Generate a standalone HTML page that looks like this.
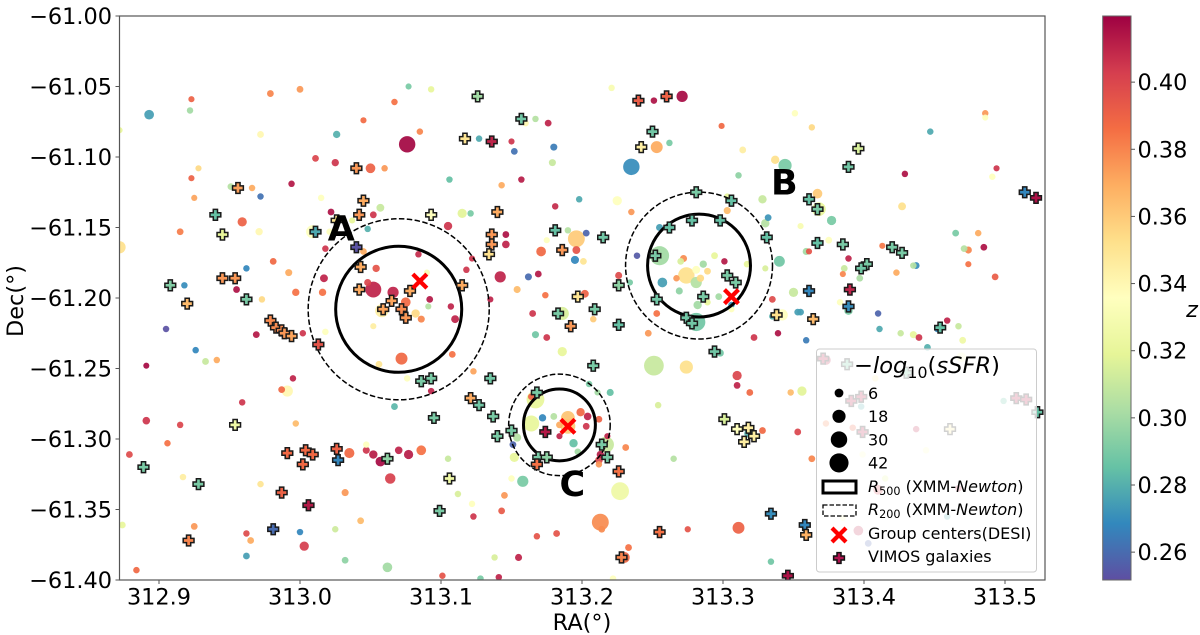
<!DOCTYPE html>
<html lang="en">
<head>
<meta charset="utf-8">
<title>Galaxy group field: RA vs Dec coloured by redshift</title>
<style>
html,body{margin:0;padding:0;background:#fff;}
svg{display:block;}
text{font-family:"DejaVu Sans","Liberation Sans",sans-serif;fill:#000;}
</style>
</head>
<body>
<svg id="chart" xmlns="http://www.w3.org/2000/svg" width="1200" height="635" viewBox="0 0 1200 635">
  <defs>
    <clipPath id="plot-clip"><rect x="119.5" y="16" width="925.5" height="564"/></clipPath>
    <linearGradient id="cbar-grad" x1="0" y1="0" x2="0" y2="1"></linearGradient>
  </defs>
  <g id="marks" clip-path="url(#plot-clip)"></g>
  <rect x="119.5" y="16" width="925.5" height="564" fill="none" stroke="#555" stroke-width="1.2"/>
  <g id="axes"></g>
  <text x="582" y="630" font-size="22.4" text-anchor="middle">RA(°)</text>
  <text transform="translate(23,301) rotate(-90)" font-size="22.4" text-anchor="middle">Dec(°)</text>
  <g id="cbar"></g>
  <text x="1192" y="317" font-size="22.4" font-style="italic" text-anchor="middle">z</text>

  <g id="legend">
    <rect x="816.5" y="349" width="220" height="223" rx="3" ry="3" fill="#fff" fill-opacity="0.8" stroke="#ccc" stroke-width="1"/>
    <text x="854" y="373" font-size="22.6">−<tspan font-style="italic">log</tspan><tspan font-size="15.8" dy="5">10</tspan><tspan dy="-5">(</tspan><tspan font-style="italic">sSFR</tspan>)</text>
    <g id="legend-sizes"></g>
    <rect x="823" y="481" width="33" height="12" fill="none" stroke="#000" stroke-width="3"/>
    <text x="868" y="492" font-size="16"><tspan font-style="italic">R</tspan><tspan font-size="11.2" dy="3">500</tspan><tspan dy="-3"> (XMM-</tspan><tspan font-style="italic">Newton</tspan>)</text>
    <rect x="823" y="505" width="33" height="11" fill="none" stroke="#000" stroke-width="1.3" stroke-dasharray="4.5 2"/>
    <text x="868" y="515" font-size="16"><tspan font-style="italic">R</tspan><tspan font-size="11.2" dy="3">200</tspan><tspan dy="-3"> (XMM-</tspan><tspan font-style="italic">Newton</tspan>)</text>
    <path d="M832 528L846 542M846 528L832 542" stroke="#f00" stroke-width="4.2" fill="none"/>
    <text x="868" y="539" font-size="16">Group centers(DESI)</text>
    <path d="M837 552.6h4v3.4h3.4v4h-3.4v3.4h-4v-3.4h-3.4v-4h3.4z" fill="#b0124f" stroke="#111" stroke-width="1.5"/>
    <text x="868" y="562" font-size="16">VIMOS galaxies</text>
  </g>
</svg>
<script>
// ---- Data: photometric / spectroscopic galaxies (RA, Dec, redshift, size value) ----
const dotRa = [
312.893,312.923,312.922,312.979,313.000,313.077,313.093,313.067,313.045,312.972,
313.026,313.076,313.085,312.928,312.923,313.011,313.025,313.050,313.060,312.951,
312.966,312.994,312.972,312.925,313.015,313.057,313.022,313.052,312.959,312.915,
312.971,313.037,313.048,313.009,313.021,313.018,313.045,312.981,312.962,312.992,
313.017,313.054,313.084,313.090,312.918,312.955,312.997,313.016,313.048,313.052,
313.066,313.075,313.092,313.091,312.973,313.058,313.082,313.086,313.052,312.905,
312.872,312.872,313.221,313.271,313.251,313.299,313.167,313.176,313.160,313.127,
313.150,313.152,313.180,313.262,313.253,313.314,313.179,313.235,313.311,313.106,
313.157,313.143,313.181,313.198,313.225,313.235,313.303,313.303,313.115,313.121,
313.105,313.146,313.146,313.255,313.190,313.203,313.196,313.175,313.171,313.196,
313.195,313.201,313.255,313.239,313.294,313.301,313.317,313.272,313.270,313.286,
313.289,313.281,313.122,313.118,313.142,313.162,313.169,313.226,313.234,313.257,
313.267,313.274,313.284,313.281,313.269,313.297,313.289,313.282,313.154,313.174,
313.202,313.135,313.107,313.110,313.165,313.186,313.208,313.253,313.281,313.306,
313.306,313.351,313.363,313.486,313.486,313.447,313.337,313.344,313.429,313.494,
313.491,313.367,313.328,313.368,313.427,313.377,313.332,313.330,313.355,313.375,
313.465,313.481,313.413,313.359,313.361,313.471,313.474,313.485,313.389,313.340,
313.330,313.386,313.474,313.385,313.423,313.435,313.437,313.493,313.397,313.350,
313.335,313.383,313.389,313.353,313.355,313.342,313.410,313.335,313.339,313.359,
313.411,313.459,313.467,313.426,313.435,313.439,313.470,313.445,313.452,312.926,
312.933,312.941,312.969,313.002,313.018,312.891,312.995,312.987,312.991,313.072,
313.108,313.056,313.076,313.093,313.067,312.959,312.891,312.915,312.997,312.906,
312.879,313.047,313.047,313.035,313.052,313.057,313.070,313.077,313.086,313.064,
313.105,313.032,312.972,312.917,313.112,313.043,313.025,313.000,312.925,312.962,
312.965,313.003,312.962,313.032,313.062,313.101,312.884,312.874,313.167,313.175,
313.247,313.322,313.186,313.251,313.274,313.298,313.310,313.310,313.319,313.348,
313.356,313.123,313.205,313.220,313.211,313.167,313.164,313.164,313.172,313.180,
313.190,313.190,313.184,313.199,313.204,313.212,313.203,313.184,313.194,313.154,
313.151,313.152,313.197,313.218,313.217,313.231,313.213,313.212,313.212,313.150,
313.158,313.145,313.122,313.123,313.143,313.227,313.213,313.214,313.182,313.168,
313.155,313.138,313.141,313.128,313.222,313.233,313.230,313.275,313.311,313.334,
313.328,313.353,313.265,313.254,313.318,313.373,313.430,313.469,313.408,313.398,
313.499,313.373,313.392,313.437,313.399,313.444,313.415,313.410,313.467,313.459,
313.396,313.403,313.363,313.385
];
const dotDec = [
-61.070,-61.059,-61.067,-61.055,-61.052,-61.050,-61.052,-61.061,-61.074,-61.084,
-61.084,-61.091,-61.082,-61.108,-61.115,-61.101,-61.104,-61.108,-61.108,-61.121,
-61.122,-61.119,-61.128,-61.129,-61.129,-61.136,-61.139,-61.141,-61.146,-61.153,
-61.153,-61.145,-61.151,-61.153,-61.153,-61.165,-61.167,-61.174,-61.179,-61.182,
-61.186,-61.179,-61.169,-61.182,-61.191,-61.194,-61.196,-61.196,-61.189,-61.194,
-61.196,-61.203,-61.201,-61.206,-61.201,-61.209,-61.211,-61.215,-61.220,-61.222,
-61.164,-61.081,-61.051,-61.057,-61.060,-61.078,-61.073,-61.076,-61.076,-61.087,
-61.089,-61.096,-61.093,-61.090,-61.093,-61.095,-61.104,-61.107,-61.113,-61.116,
-61.116,-61.120,-61.135,-61.130,-61.131,-61.139,-61.138,-61.128,-61.140,-61.140,
-61.149,-61.155,-61.162,-61.150,-61.152,-61.154,-61.158,-61.159,-61.167,-61.166,
-61.173,-61.174,-61.170,-61.170,-61.170,-61.174,-61.176,-61.172,-61.174,-61.176,
-61.181,-61.180,-61.172,-61.180,-61.185,-61.185,-61.183,-61.184,-61.189,-61.189,
-61.186,-61.184,-61.186,-61.189,-61.195,-61.199,-61.203,-61.205,-61.194,-61.198,
-61.197,-61.201,-61.206,-61.215,-61.211,-61.211,-61.215,-61.211,-61.217,-61.205,
-61.208,-61.069,-61.079,-61.069,-61.072,-61.082,-61.102,-61.106,-61.112,-61.108,
-61.114,-61.126,-61.130,-61.137,-61.135,-61.145,-61.143,-61.147,-61.149,-61.159,
-61.154,-61.154,-61.163,-61.167,-61.167,-61.165,-61.166,-61.164,-61.172,-61.174,
-61.179,-61.179,-61.176,-61.183,-61.182,-61.177,-61.177,-61.185,-61.186,-61.196,
-61.201,-61.203,-61.209,-61.210,-61.210,-61.212,-61.211,-61.213,-61.225,-61.230,
-61.222,-61.216,-61.220,-61.225,-61.226,-61.228,-61.230,-61.235,-61.222,-61.237,
-61.245,-61.244,-61.226,-61.225,-61.224,-61.248,-61.257,-61.265,-61.266,-61.243,
-61.240,-61.247,-61.257,-61.266,-61.277,-61.274,-61.287,-61.290,-61.289,-61.303,
-61.311,-61.304,-61.308,-61.310,-61.311,-61.316,-61.308,-61.311,-61.308,-61.328,
-61.314,-61.338,-61.332,-61.327,-61.339,-61.358,-61.364,-61.366,-61.362,-61.367,
-61.372,-61.376,-61.383,-61.386,-61.391,-61.397,-61.393,-61.361,-61.226,-61.228,
-61.225,-61.228,-61.238,-61.248,-61.249,-61.239,-61.255,-61.262,-61.267,-61.267,
-61.266,-61.252,-61.261,-61.267,-61.267,-61.272,-61.270,-61.289,-61.285,-61.284,
-61.285,-61.291,-61.290,-61.281,-61.284,-61.286,-61.291,-61.298,-61.303,-61.299,
-61.304,-61.313,-61.309,-61.298,-61.304,-61.306,-61.311,-61.315,-61.318,-61.328,
-61.330,-61.340,-61.346,-61.355,-61.351,-61.337,-61.359,-61.364,-61.367,-61.369,
-61.384,-61.384,-61.398,-61.399,-61.399,-61.377,-61.384,-61.364,-61.363,-61.387,
-61.294,-61.295,-61.314,-61.276,-61.296,-61.244,-61.253,-61.242,-61.257,-61.277,
-61.273,-61.289,-61.292,-61.293,-61.311,-61.308,-61.328,-61.336,-61.335,-61.355,
-61.365,-61.374,-61.314,-61.356
];
const dotZ = [
.275,.39,.30,.38,.375,.29,.32,.385,.387,.34,
.28,.418,.38,.355,.39,.40,.405,.39,.375,.305,
.37,.413,.262,.372,.335,.31,.415,.405,.39,.382,
.34,.32,.28,.335,.335,.405,.37,.388,.268,.37,
.41,.395,.408,.33,.27,.415,.385,.385,.40,.41,
.41,.388,.413,.305,.355,.345,.355,.38,.345,.253,
.352,.32,.33,.417,.415,.388,.305,.41,.34,.278,
.405,.262,.265,.29,.37,.345,.31,.27,.295,.285,
.412,.37,.408,.278,.335,.375,.365,.32,.318,.29,
.405,.415,.41,.275,.305,.258,.36,.335,.388,.395,
.268,.35,.30,.255,.32,.413,.32,.378,.315,.30,
.355,.335,.405,.405,.41,.26,.413,.398,.29,.275,
.375,.352,.355,.305,.295,.30,.32,.30,.365,.385,
.39,.41,.41,.41,.405,.315,.36,.385,.288,.27,
.335,.335,.355,.375,.335,.278,.352,.29,.415,.405,
.335,.36,.31,.32,.352,.29,.272,.305,.33,.335,
.29,.37,.383,.30,.395,.305,.38,.415,.41,.288,
.315,.31,.385,.38,.37,.305,.27,.392,.302,.31,
.398,.335,.29,.275,.275,.335,.258,.28,.415,.265,
.278,.41,.31,.31,.32,.405,.325,.28,.268,.268,
.31,.37,.413,.405,.335,.417,.41,.388,.34,.388,
.385,.35,.335,.41,.282,.405,.405,.40,.365,.385,
.398,.335,.405,.388,.412,.417,.41,.412,.385,.402,
.31,.375,.35,.345,.315,.365,.312,.268,.375,.398,
.37,.403,.275,.295,.30,.395,.388,.32,.288,.405,
.375,.405,.32,.31,.352,.288,.40,.41,.388,.365,
.318,.372,.29,.285,.30,.32,.39,.32,.268,.305,
.362,.36,.37,.388,.41,.39,.405,.41,.285,.305,
.258,.32,.30,.41,.31,.38,.412,.40,.375,.335,
.29,.375,.335,.405,.393,.325,.378,.378,.395,.395,
.41,.315,.41,.29,.335,.385,.388,.395,.39,.288,
.388,.40,.305,.315,.28,.41,.29,.335,.345,.28,
.285,.38,.39,.41,.335,.335,.32,.40,.41,.28,
.41,.258,.38,.335
];
const dotSize = [
8,1,1.5,2,2,1,1.5,1.5,1,2,
3,30,1.5,1,1,2,3,8,1.5,2,
1.5,1.5,1.5,1,1.5,4,2,2,7,2,
3,1,1.5,18,1.5,1.5,2,2,1.5,2.5,
4,3,1.5,1,1.5,2,3,3,2.5,28,
12,8,2,1,1.5,18,5,2.5,1,1.5,
15,1,1.5,12,1.5,1,1.5,2,1.5,1.5,
1,2,2.5,1.5,14,2,2.5,30,1.5,1.5,
1.5,1.5,1.5,1.5,7,1.5,2.5,1,7,1.5,
5,2,3.5,2.5,1.5,2,32,1,8,4,
4.5,2,42,1.5,2,1.5,1.5,2.5,2,3,
2,4,1,1.5,12,2.5,2,2.5,1,8,
1.5,30,3,12,2.5,2,1.5,5,2.5,1.5,
4,1,1.5,4,2,18,1.5,2,38,1.5,
1,1.5,1.5,1.5,1,1.5,5,18,1.5,1,
1.5,8,5,20,4,7,2,5,1,2,
2,1.5,1,2.5,1,2,2.5,2,1.5,11,
1,2,1,1,1.5,1.5,2,2,2,7,
2,1.5,5,2,2,12,1.5,1.5,1.5,1.5,
1.5,1.5,1.5,1.5,2.5,2,2,2,1.5,1.5,
2,1.5,2,1.5,1.5,0.8,1.5,2,12,14,
2,2,1.5,1.5,2,1.5,3.5,1.5,1.5,1.5,
2,1.5,2.5,9,5,8,3.5,7,8,10,
1.5,2.5,1.5,1.5,1.5,2,1.5,1.5,2,1.5,
2,7,2,2,8,1.5,1.5,2,2.5,2,
2,2,7,45,18,3,7,2,2,1.5,
7,1.5,1.5,2.5,1,36,1.5,28,3,2,
20,24,2,5,3.5,2,2,1,5,4.5,
2,7,1.5,1,28,2,3,3.5,1.5,1.5,
12,2,1.5,1.5,2,36,32,2,2,1.5,
2.5,1.5,1.5,1.5,1.5,2,11,1.2,14,1.5,
2,2,1.5,1.5,5,8,2,8,1.5,1.5,
1.5,1.5,1.5,1.5,1.5,1.5,1.5,8,1.5,1.5,
8,2,2,1
];

// ---- Data: VIMOS galaxies (plus markers) ----
const vimosRa = [
313.040,313.045,313.042,312.956,312.940,312.945,313.011,313.026,313.093,313.040,
313.043,313.042,313.078,313.065,313.059,313.072,313.075,312.945,312.954,312.908,
312.920,312.962,312.979,312.983,312.987,312.989,312.994,313.013,313.126,313.157,
313.117,313.136,313.240,313.260,313.250,313.242,313.281,313.306,313.140,313.136,
313.136,313.134,313.181,313.215,313.186,313.115,313.262,313.278,313.298,313.252,
313.303,313.309,313.226,313.253,313.286,313.197,313.183,313.209,313.192,313.226,
313.274,313.278,313.396,313.389,313.361,313.367,313.331,313.367,313.385,313.420,
313.427,313.402,313.398,313.361,313.390,313.389,313.338,313.364,313.454,313.514,
313.522,313.086,313.093,313.095,312.954,312.889,312.928,312.991,313.004,313.009,
313.002,313.026,313.027,313.062,313.106,312.987,313.006,312.981,312.921,313.099,
313.208,313.294,313.135,313.121,313.127,313.137,313.140,313.150,313.168,313.174,
313.169,313.175,313.168,313.214,313.218,313.226,313.301,313.310,313.318,313.322,
313.315,313.255,313.228,313.334,313.358,313.359,313.346,313.371,313.388,313.430,
313.391,313.398,313.399,313.508,313.515,313.461,313.523
];
const vimosDec = [
-61.108,-61.131,-61.141,-61.122,-61.141,-61.155,-61.153,-61.145,-61.141,-61.164,
-61.178,-61.194,-61.195,-61.202,-61.208,-61.208,-61.214,-61.186,-61.186,-61.191,
-61.204,-61.201,-61.216,-61.221,-61.223,-61.225,-61.227,-61.233,-61.057,-61.073,
-61.087,-61.089,-61.060,-61.057,-61.082,-61.093,-61.125,-61.131,-61.139,-61.155,
-61.162,-61.169,-61.152,-61.157,-61.166,-61.191,-61.150,-61.145,-61.145,-61.170,
-61.184,-61.189,-61.191,-61.201,-61.199,-61.199,-61.211,-61.208,-61.220,-61.219,
-61.214,-61.218,-61.094,-61.107,-61.130,-61.137,-61.157,-61.161,-61.162,-61.164,
-61.168,-61.176,-61.179,-61.195,-61.194,-61.206,-61.212,-61.215,-61.221,-61.125,
-61.129,-61.259,-61.257,-61.285,-61.290,-61.320,-61.332,-61.310,-61.308,-61.311,
-61.318,-61.307,-61.315,-61.314,-61.328,-61.338,-61.347,-61.364,-61.372,-61.351,
-61.248,-61.238,-61.257,-61.271,-61.276,-61.284,-61.298,-61.294,-61.267,-61.295,
-61.313,-61.313,-61.318,-61.304,-61.313,-61.323,-61.286,-61.293,-61.292,-61.298,
-61.302,-61.366,-61.384,-61.353,-61.361,-61.368,-61.397,-61.243,-61.247,-61.253,
-61.273,-61.270,-61.295,-61.271,-61.272,-61.293,-61.281
];
const vimosZ = [
.375,.37,.375,.373,.285,.32,.278,.35,.335,.253,
.37,.37,.37,.372,.372,.378,.375,.375,.375,.292,
.365,.29,.378,.378,.378,.375,.372,.395,.30,.288,
.35,.41,.392,.39,.288,.345,.29,.285,.37,.375,
.375,.352,.285,.288,.375,.37,.285,.285,.285,.29,
.29,.29,.295,.288,.29,.35,.29,.29,.375,.285,
.288,.288,.315,.288,.285,.29,.285,.285,.29,.29,
.29,.29,.288,.268,.41,.27,.352,.365,.285,.268,
.415,.29,.29,.29,.325,.29,.29,.388,.388,.388,
.388,.39,.268,.295,.325,.39,.413,.26,.38,.29,
.29,.288,.288,.37,.288,.29,.29,.29,.29,.413,
.29,.295,.385,.29,.29,.385,.315,.335,.345,.345,
.345,.385,.38,.27,.268,.368,.415,.41,.29,.29,
.41,.41,.41,.41,.41,.345,.285
];

// ---- Data: groups ----
const groupNames = ["A","B","C"];
const groupRa = [313.070,313.283,313.184];
const groupDec = [-61.208,-61.177,-61.290];
const r500Deg = [0.0447,0.0365,0.0255];
const r200Deg = [0.0642,0.0521,0.0360];
const centerRa = [313.085,313.306,313.190];
const centerDec = [-61.188,-61.199,-61.291];

// ---- Axis ticks and legend values ----
const xTicks = [312.9,313.0,313.1,313.2,313.3,313.4,313.5];
const yTicks = [-61.00,-61.05,-61.10,-61.15,-61.20,-61.25,-61.30,-61.35,-61.40];
const zTicks = [0.40,0.38,0.36,0.34,0.32,0.30,0.28,0.26];
const legendSizes = [6,18,30,42];

// ---- Scales ----
const NS = "http://www.w3.org/2000/svg";
const xOf = ra => 300 + (ra - 313) * 1410;
const yOf = dec => 16 + (-61 - dec) * 1410;
const rOf = deg => deg * 1410;
const zMin = 0.2517, zMax = 0.4197;
const zY = z => 16 + (zMax - z) / (zMax - zMin) * 564;
const sizeR = s => Math.sqrt(30 + 8 * s) / 2;
const spectral = [[94,79,162],[50,136,189],[102,194,165],[171,221,164],[230,245,152],[255,255,191],[254,224,139],[253,174,97],[244,109,67],[213,62,79],[158,1,66]];
function colorOf(z){
  const t = Math.min(1, Math.max(0, (z - zMin) / (zMax - zMin))) * 10;
  const i = Math.min(9, Math.floor(t)), f = t - i;
  const a = spectral[i], b = spectral[i + 1];
  return "rgb(" + [0,1,2].map(k => Math.round(a[k] + (b[k] - a[k]) * f)).join(",") + ")";
}
function mk(tag, attrs, parent, txt){
  const el = document.createElementNS(NS, tag);
  for (const k in attrs) el.setAttribute(k, attrs[k]);
  if (txt !== undefined) el.textContent = txt;
  parent.appendChild(el);
  return el;
}
function plusPath(cx, cy, h, w){
  return "M" + (cx - w) + " " + (cy - h) + "h" + (2 * w) + "v" + (h - w) + "h" + (h - w) + "v" + (2 * w) + "h" + (w - h) + "v" + (h - w) + "h" + (-2 * w) + "v" + (w - h) + "h" + (w - h) + "v" + (-2 * w) + "h" + (h - w) + "z";
}
const fmtMinus = s => s.replace("-", "\u2212");
const marks = document.getElementById("marks");
const axes = document.getElementById("axes");
const cbar = document.getElementById("cbar");
const legendSizesG = document.getElementById("legend-sizes");

// ---- Galaxies (largest first so small points stay visible) ----
const n = Math.min(dotRa.length, dotDec.length, dotZ.length, dotSize.length);
const order = Array.from({length: n}, (_, i) => i).sort((a, b) => dotSize[b] - dotSize[a]);
order.forEach(i => {
  const c = mk("circle", {cx: xOf(dotRa[i]), cy: yOf(dotDec[i]), r: sizeR(dotSize[i]), fill: colorOf(dotZ[i]), "fill-opacity": 0.93}, marks);
  
  
});

// ---- R500 / R200 circles ----
groupNames.forEach((g, i) => {
  const r2 = mk("circle", {cx: xOf(groupRa[i]), cy: yOf(groupDec[i]), r: rOf(r200Deg[i]), fill: "none", stroke: "#000", "stroke-width": 1.5, "stroke-dasharray": "5.5 2.4"}, marks);
  
  
  const r5 = mk("circle", {cx: xOf(groupRa[i]), cy: yOf(groupDec[i]), r: rOf(r500Deg[i]), fill: "none", stroke: "#000", "stroke-width": 3}, marks);
  
  
});

// ---- VIMOS plus markers ----
vimosRa.forEach((ra, i) => {
  const p = mk("path", {d: plusPath(xOf(ra), yOf(vimosDec[i]), 5.4, 2.1), fill: colorOf(vimosZ[i]), stroke: "#1a1a1a", "stroke-width": 1.5, "stroke-linejoin": "miter"}, marks);
  
  
});

// ---- Group centres ----
centerRa.forEach((ra, i) => {
  const x = xOf(ra), y = yOf(centerDec[i]);
  const p = mk("path", {d: "M" + (x - 7) + " " + (y - 7) + "L" + (x + 7) + " " + (y + 7) + "M" + (x + 7) + " " + (y - 7) + "L" + (x - 7) + " " + (y + 7), stroke: "#f00", "stroke-width": 4.2, fill: "none"}, marks);
  
  
});

// ---- Group labels, positioned relative to each group ----
const labelDx = [-71, 72, 0];
const labelDy = [-69, -71, 71];
groupNames.forEach((g, i) => {
  const t = mk("text", {x: xOf(groupRa[i]) + labelDx[i], y: yOf(groupDec[i]) + labelDy[i], "font-size": 35, "font-weight": "bold"}, marks, g);
  
  
});

// ---- Axis ticks ----
xTicks.forEach(v => {
  const x = xOf(v);
  const l = mk("line", {x1: x, x2: x, y1: 580, y2: 584, stroke: "#555", "stroke-width": 1}, axes);
  
  
  const t = mk("text", {x: x, y: 604.5, "font-size": 22.4, "text-anchor": "middle"}, axes, v.toFixed(1));
  
  
});
yTicks.forEach(v => {
  const y = yOf(v);
  const l = mk("line", {x1: 115.5, x2: 119.5, y1: y, y2: y, stroke: "#555", "stroke-width": 1}, axes);
  
  
  const t = mk("text", {x: 112, y: y + 8, "font-size": 22.4, "text-anchor": "end"}, axes, fmtMinus(v.toFixed(2)));
  
  
});

// ---- Colorbar ----
const grad = document.getElementById("cbar-grad");
spectral.forEach((c, i) => {
  mk("stop", {offset: (10 - i) / 10, "stop-color": "rgb(" + c.join(",") + ")"}, grad);
});
const stops = Array.from(grad.children).reverse();
stops.forEach(s => grad.appendChild(s));
const bar = mk("rect", {x: 1102.7, y: 16, width: 28.3, height: 564, fill: "url(#cbar-grad)", stroke: "#666", "stroke-width": 1}, cbar);


zTicks.forEach(v => {
  const y = zY(v);
  const l = mk("line", {x1: 1131, x2: 1135, y1: y, y2: y, stroke: "#555", "stroke-width": 1}, cbar);
  
  
  const t = mk("text", {x: 1137.5, y: y + 8, "font-size": 22.4}, cbar, v.toFixed(2));
  
  
});

// ---- Legend size entries ----
legendSizes.forEach((s, i) => {
  const y = 393 + i * 23.3;
  const c = mk("circle", {cx: 839, cy: y, r: sizeR(s), fill: "#000"}, legendSizesG);
  
  
  const t = mk("text", {x: 868, y: y + 5.8, "font-size": 16}, legendSizesG, String(s));
  
  
});
</script>
</body>
</html>
